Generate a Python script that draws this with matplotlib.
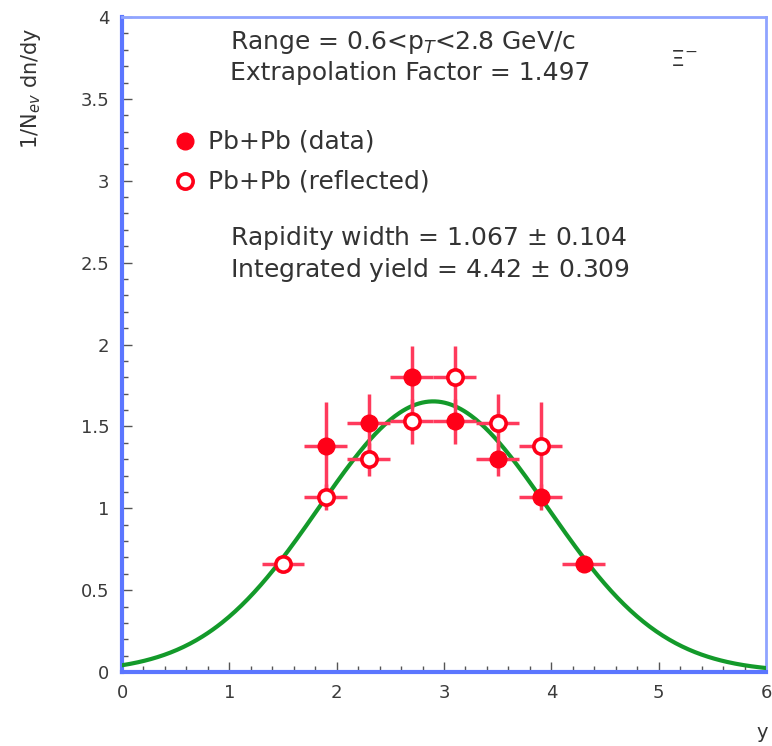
import numpy as np
import matplotlib
matplotlib.use("Agg")
import matplotlib.pyplot as plt
from matplotlib.ticker import MultipleLocator

# Data
y_data = [1.9, 2.3, 2.7, 3.1, 3.5, 3.9, 4.3]
dn_data = [1.38, 1.52, 1.80, 1.53, 1.30, 1.07, 0.66]
dn_err = [0.27, 0.18, 0.19, 0.14, 0.10, 0.08, 0.05]
y_half_bin = 0.2
y_reflect_axis = 2.9
y_refl = [2 * y_reflect_axis - v for v in y_data]

# Gaussian fit parameters from the annotation
fit_width = 1.067
fit_yield = 4.42
fit_center = 2.9

spine_col = "#5b76ff"
red = "#ff0018"
err_col = "#ff3a5c"

fig = plt.figure(figsize=(7.72, 7.46), dpi=100)
ax = fig.add_axes([122 / 772, 1 - 672 / 746, (766 - 122) / 772, (672 - 17) / 746])

yy = np.linspace(0, 6, 400)
amp = fit_yield / (fit_width * np.sqrt(2 * np.pi))
ax.plot(yy, amp * np.exp(-(yy - fit_center) ** 2 / (2 * fit_width ** 2)),
        color="#139a2a", lw=3, zorder=3)

ax.errorbar(y_data, dn_data, yerr=dn_err, xerr=y_half_bin, fmt="o", ms=12,
            color=red, mfc=red, mec=red, ecolor=err_col, elinewidth=2.5,
            capsize=0, zorder=4)
ax.errorbar(y_refl, dn_data, yerr=dn_err, xerr=y_half_bin, fmt="o", ms=11,
            color=red, mfc="white", mec=red, mew=2.6, ecolor=err_col,
            elinewidth=2.5, capsize=0, zorder=4)

ax.set_xlim(0, 6)
ax.set_ylim(0, 4)
ax.xaxis.set_major_locator(MultipleLocator(1))
ax.xaxis.set_minor_locator(MultipleLocator(0.2))
ax.yaxis.set_minor_locator(MultipleLocator(0.1))
ax.set_yticks(np.arange(0, 4.01, 0.5))
ax.set_yticklabels(["0", "0.5", "1", "1.5", "2", "2.5", "3", "3.5", "4"])
ax.tick_params(which="both", direction="in", colors="#555555", labelcolor="#3a3a3a",
               labelsize=13, top=False, right=False)
ax.tick_params(which="major", length=7, width=1)
ax.tick_params(which="minor", length=4, width=1)
ax.tick_params(axis="y", pad=9)
ax.tick_params(axis="x", pad=9)
for s in ["left", "bottom"]:
    ax.spines[s].set_color(spine_col)
    ax.spines[s].set_linewidth(3)
for s in ["right", "top"]:
    ax.spines[s].set_color("#8fa4ff")
    ax.spines[s].set_linewidth(2)

fig.text(31 / 772, 1 - 88 / 746, r"1/N$_{ev}$ dn/dy", rotation=90, ha="center",
         va="center", fontsize=15, color="#333333")
fig.text(762 / 772, 1 - 733 / 746, "y", ha="center", va="center", fontsize=14,
         color="#333333")

tc = "#333333"


def at(px, py, s, **kw):
    fig.text(px / 772, 1 - py / 746, s, va="center", ha="left", color=tc, **kw)


fs = 18
at(230, 42, r"Range = 0.6<p$_{T}$<2.8 GeV/c", fontsize=fs)
at(230, 73, "Extrapolation Factor = 1.497", fontsize=fs)
at(670, 60, r"$\Xi^{-}$", fontsize=16)
at(208, 141, "Pb+Pb (data)", fontsize=fs)
at(208, 181, "Pb+Pb (reflected)", fontsize=fs)
at(230, 238, "Rapidity width = 1.067 $\\pm$ 0.104", fontsize=fs)
at(230, 270, "Integrated yield = 4.42 $\\pm$ 0.309", fontsize=fs)

fig.lines.append(plt.Line2D([185 / 772], [1 - 141 / 746], marker="o", ms=12,
                            color=red, transform=fig.transFigure))
fig.lines.append(plt.Line2D([185 / 772], [1 - 181 / 746], marker="o", ms=11,
                            mfc="white", mec=red, mew=2.6,
                            transform=fig.transFigure))

fig.savefig("out.png", dpi=100)
